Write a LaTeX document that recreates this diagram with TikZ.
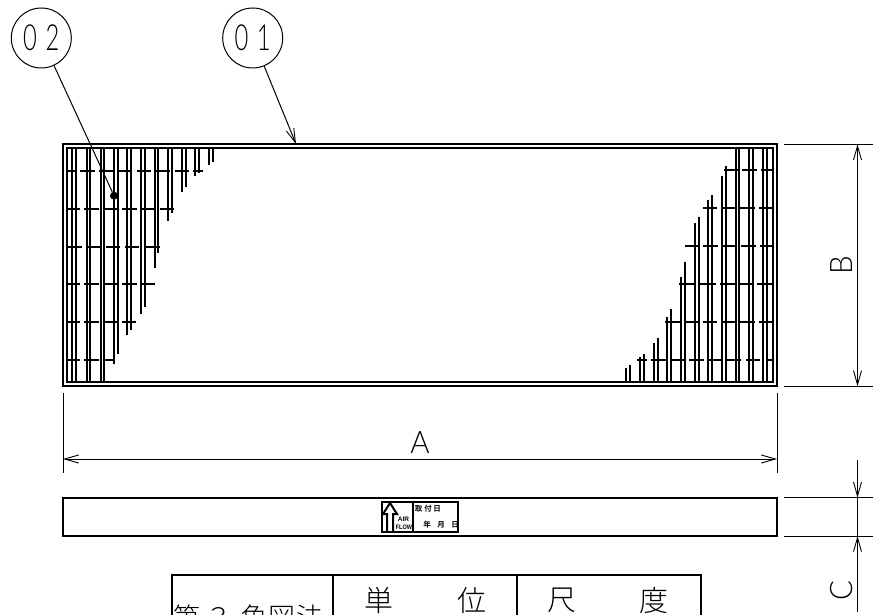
\documentclass[tikz,border=0pt]{standalone}
\usepackage{fontspec}
\usetikzlibrary{arrows.meta}
\setsansfont{Lato}[UprightFont=* Light]
\newfontfamily\cjk{Noto Sans CJK JP}[UprightFont=* Light]
\newfontfamily\cjkbold{Noto Sans CJK JP}[UprightFont=* Bold]
\newfontfamily\tagfont{Liberation Sans}[UprightFont=* Bold]
\tikzset{
  x=1pt,y=-1pt,
  frame/.style={line width=2pt,black},
  bar/.style={line width=2pt,black},
  hbar/.style={line width=2pt,black},
  thinline/.style={line width=1pt,black},
  dimtips/.style={{Straight Barb[length=14pt,width=8pt,line width=.9pt]}-{Straight Barb[length=14pt,width=8pt,line width=.9pt]}},
  tiponly/.style={-{Straight Barb[length=14pt,width=8pt,line width=.9pt]}},
  balloon/.style={circle,draw,line width=1pt,minimum size=60pt,inner sep=0pt,font=\sffamily\fontsize{36}{36}\selectfont},
  dimtext/.style={inner sep=0pt,font=\sffamily\fontsize{31}{31}\selectfont},
  cjktext/.style={inner sep=0pt,anchor=center,font=\cjk\fontsize{29}{29}\selectfont},
  cjksmall/.style={inner sep=0pt,anchor=center,font=\cjk\fontsize{27}{27}\selectfont},
  tagtext/.style={inner sep=0pt,font=\tagfont\fontsize{6.5}{7}\selectfont},
  tagcjk/.style={inner sep=0pt,font=\cjkbold\fontsize{7.5}{8}\selectfont},
}
\begin{document}
\begin{tikzpicture}
\clip (0,0) rectangle (873,615);
% main frame
\draw[frame] (63,144.3) rectangle (776.7,386.3);
\draw[frame] (66.7,147.7) rectangle (773.3,382.3);
% left vertical bars: x,bottom y
\foreach \x/\b in {67.3/382,72.3/382,76.3/382,86.7/382,90/382,100.7/382,104/382,
  114/364,117.7/354,127.3/334.7,131/330,140.7/314,144.7/307.3,154.7/268,158.3/253,
  168/220.7,172/212.7,182/192.3,185.7/186.7,195.3/176.3,199/173.3,208.7/165,212.7/161.7}
  \draw[bar] (\x,147.7) -- (\x,\b);
% left horizontal bars
\foreach \y/\segs in {170.7/{50/80,90/135,148/190,203/247,260/304,317/361,374/418,430/458},
  208.7/{50/91,103/147,160/204,217/261,274/318,331/372},
  246.7/{50/97,110/154,167/211,224/268,281/330},
  284/{50/91,103/147,160/204,217/261,274/314},
  321.7/{50/91,103/147,160/204,217/259},
  359.7/{50/89,102/146,158/195}}
  \foreach \a/\c in \segs
    \draw[hbar] ({50+\a/3},\y) -- ({50+\c/3},\y);
% right vertical bars: zoom x, top y
\foreach \x/\t in {19/368.3,30/365.3,60/357.3,72/354.3,101/342.7,113/338.3,142/317.3,153/309.3,
  182/276.7,195/261.7,224/222.7,236/216.7,264/200,276/195,305/175.7,317/166,
  347/147.7,357/147.7,388/147.7,400/147.7,428/147.7,440/147.7}
  \draw[bar] ({620+\x/3},\t) -- ({620+\x/3},382.3);
% right horizontal bars
\foreach \y/\segs in {170.3/{313/354,366/410,423/460},
  208.3/{250/292,304/348,360/405,417/460},
  246.3/{195/238,250/294,307/350,363/407,420/460},
  284/{178/227,240/288,300/344,355/400,412/460},
  321.7/{136/180,192/236,248/292,304/348,360/405,417/460},
  359.7/{52/80,93/137,150/194,207/251,265/308,321/364,377/421,437/460}}
  \foreach \a/\c in \segs
    \draw[hbar] ({620+\a/3},\y) -- ({620+\c/3},\y);
% balloons
\node[balloon] (b2) at (41.3,38) {\scalebox{.66}[1]{0\hspace{13pt}2}};
\node[balloon] (b1) at (252.7,38) {\scalebox{.66}[1]{0\hspace{13pt}1}};
\node[circle,fill=black,minimum size=8pt,inner sep=0pt] (dot) at (114,195.7) {};
\coordinate (frametop) at (296,144);
\draw[thinline] (b2) -- (dot);
\draw[thinline,tiponly] (b1) -- (frametop);
% dimension A
\coordinate (a1) at (63,459); \coordinate (a2) at (777,459);
\coordinate (a1t) at (63,393); \coordinate (a1b) at (63,473);
\coordinate (a2t) at (777,393); \coordinate (a2b) at (777,473);
\draw[thinline] (a1t) -- (a1b);
\draw[thinline] (a2t) -- (a2b);
\draw[thinline,dimtips] (a1) -- (a2);
\node[dimtext] (lblA) at (420,443) {\scalebox{.95}[1]{A}};
% dimension B
\coordinate (bt1) at (784,144.3); \coordinate (bt2) at (873,144.3);
\coordinate (bb1) at (784,386.3); \coordinate (bb2) at (873,386.3);
\draw[thinline] (bt1) -- (bt2);
\draw[thinline] (bb1) -- (bb2);
\coordinate (bd1) at (857.5,144.3); \coordinate (bd2) at (857.5,386.3);
\draw[thinline,dimtips] (bd1) -- (bd2);
\node[dimtext,rotate=90] (lblB) at (841.5,265) {\scalebox{.95}[1]{B}};
% lower view
\draw[frame] (63,497.7) rectangle (777,536);
\coordinate (ct1) at (784,497.7); \coordinate (ct2) at (873,497.7);
\coordinate (cb1) at (784,536); \coordinate (cb2) at (873,536);
\draw[thinline] (ct1) -- (ct2);
\draw[thinline] (cb1) -- (cb2);
\coordinate (cu) at (857.5,460); \coordinate (cd) at (857.5,611.7);
\coordinate (cm1) at (857.5,497.7); \coordinate (cm2) at (857.5,536);
\draw[thinline,tiponly] (cu) -- (cm1);
\draw[thinline] (cm1) -- (cm2);
\draw[thinline,tiponly] (cd) -- (cm2);
\node[dimtext,rotate=90] (lblC) at (841.5,591) {\scalebox{.95}[1]{C}};
% tag
\draw[frame] (381.7,501.7) rectangle (458.3,531.7);
\draw[frame] (413.3,501.7) -- (413.3,531.7);
\draw[frame] (387,531) -- (387,514) -- (383,514) -- (390,503) -- (397,514) -- (393,514) -- (393,531);
\node[tagtext] (air) at (403.5,519.5) {AIR};
\node[tagtext] (flow) at (404,527.5) {\scalebox{.85}[1]{FLOW}};
\node[tagcjk] (dateA) at (418.5,509) {取};
\node[tagcjk] (dateB) at (428,509) {付};
\node[tagcjk] (dateC) at (437,509) {日};
\node[tagcjk] (y) at (427,525) {年};
\node[tagcjk] (m) at (441,525) {月};
\node[tagcjk] (d) at (455,525) {日};
% table
\draw[frame] (172,625) -- (172,575) -- (701,575) -- (701,625);
\draw[frame] (333,575) -- (333,625);
\draw[frame] (517,575) -- (517,625);
\node[cjktext] (t1) at (379,600.5) {単};
\node[cjktext] (t2) at (472,600.5) {位};
\node[cjktext] (t3) at (562,600.5) {尺};
\node[cjktext] (t4) at (654,600.5) {度};
\node[cjksmall] (t5) at (186.5,617.5) {第};
\node[cjksmall] (t6) at (219,617.5) {３};
\node[cjksmall] (t7) at (253.5,617.5) {角};
\node[cjksmall] (t8) at (281.5,617.5) {図};
\node[cjksmall] (t9) at (309.5,617.5) {法};
\end{tikzpicture}
\end{document}
